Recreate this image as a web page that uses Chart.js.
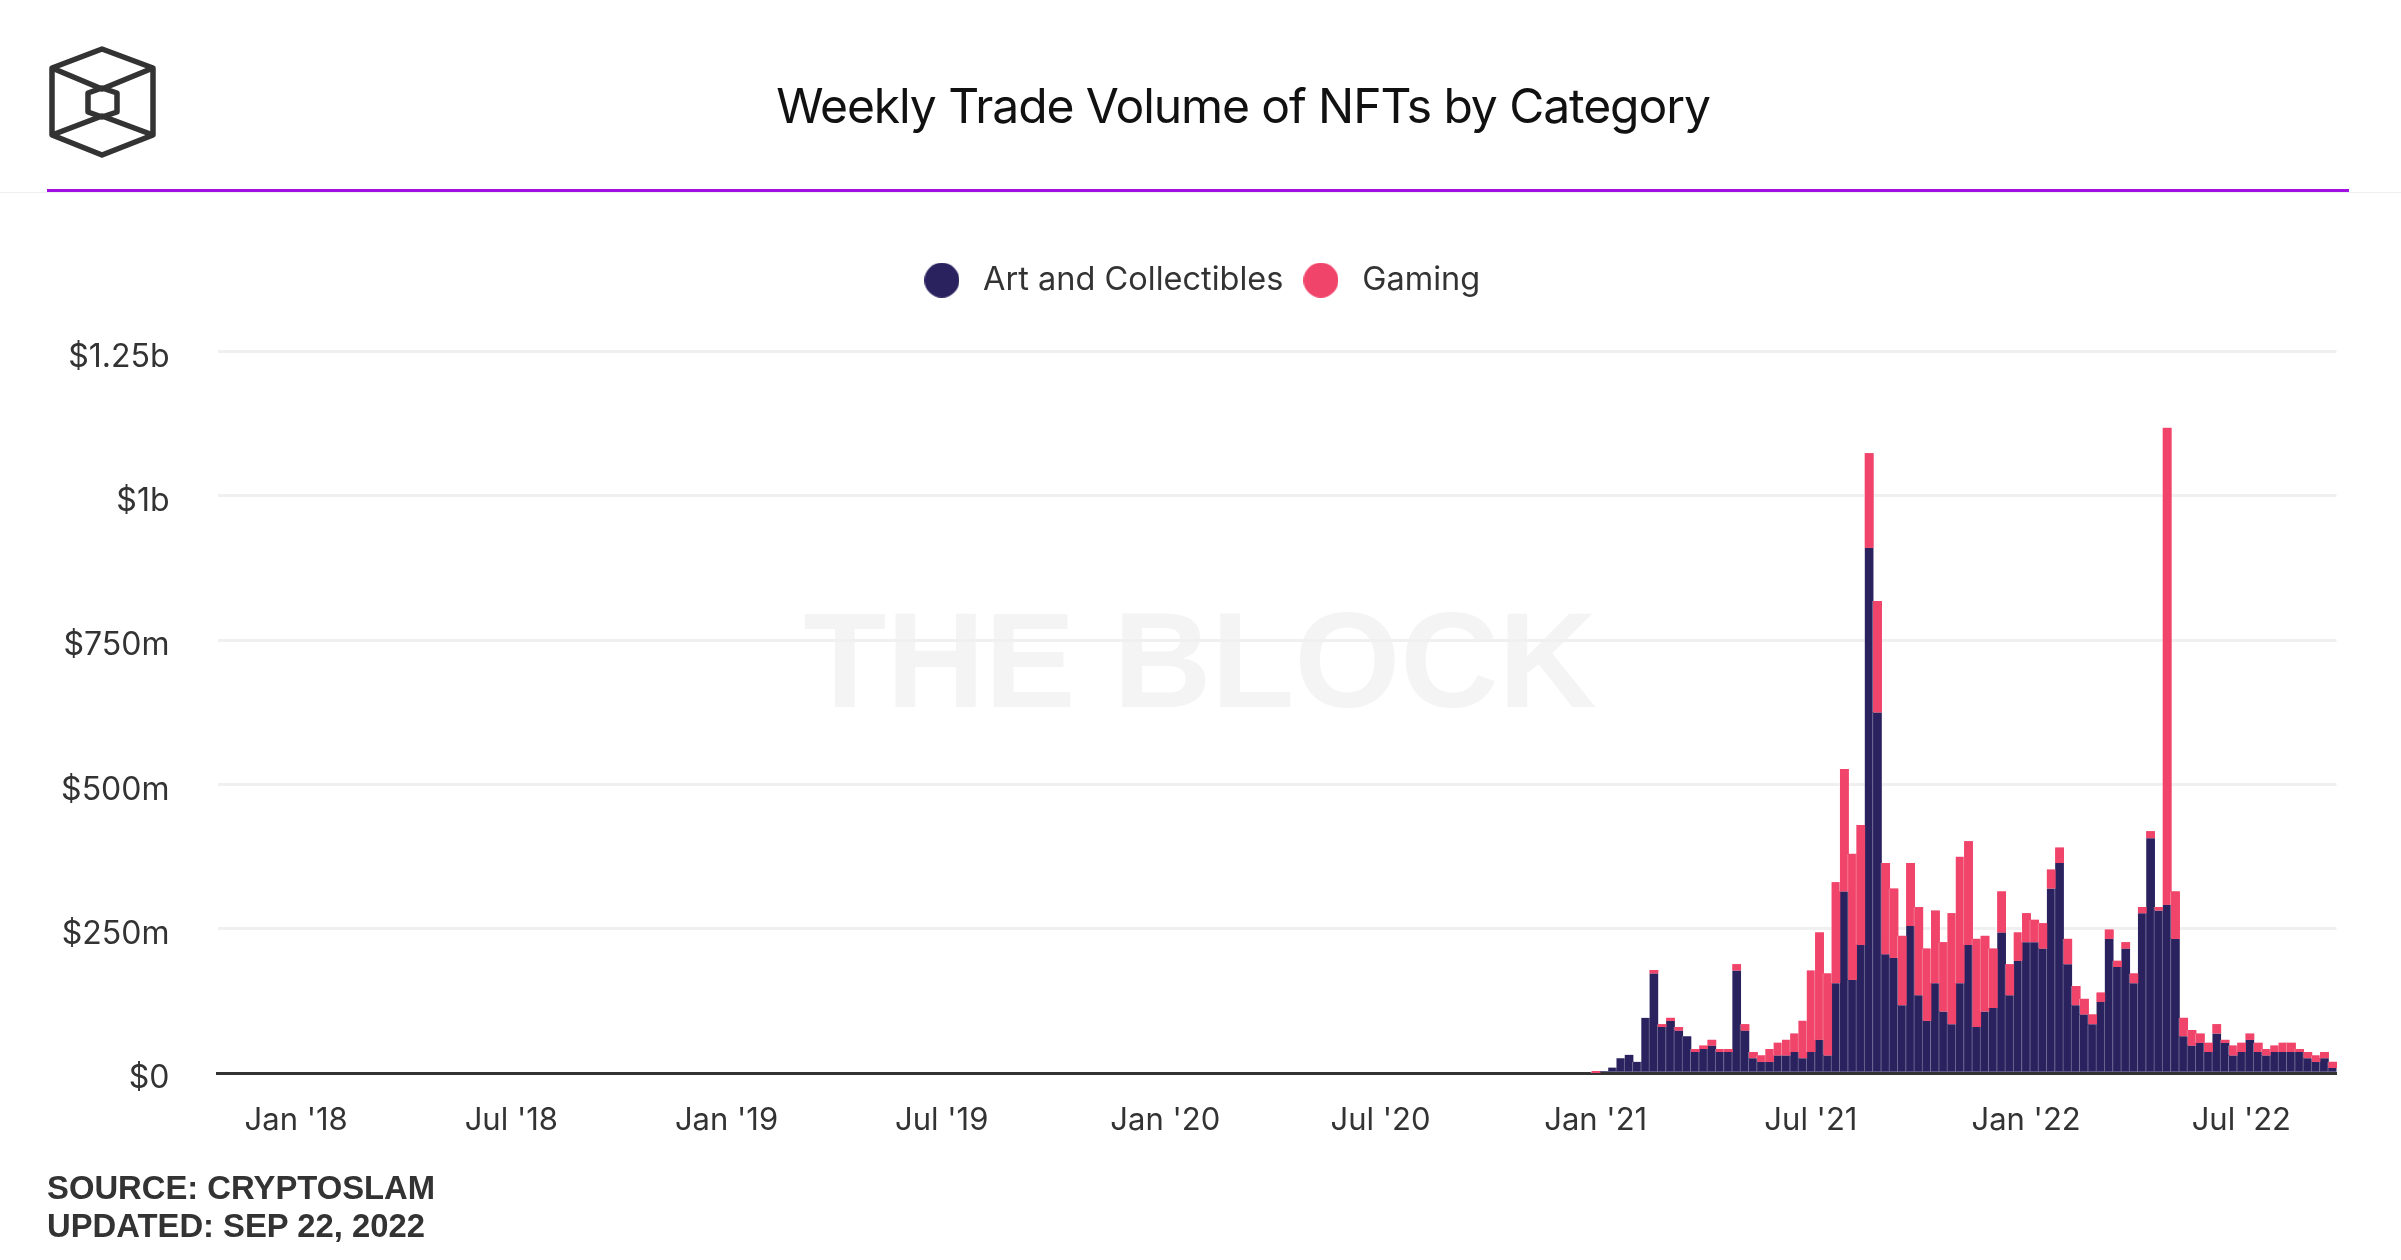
<!DOCTYPE html>
<html>
<head>
<meta charset="utf-8">
<title>Weekly Trade Volume of NFTs by Category</title>
<script src="https://cdn.jsdelivr.net/npm/chart.js@4/dist/chart.umd.min.js"></script>
<style>
  html, body { margin: 0; padding: 0; background: #fff; }
  #page { position: relative; width: 2401px; height: 1260px; overflow: hidden; }
  #watermark { position: absolute; left: 0; width: 2400px; top: 582px; text-align: center;
    font: bold 136px "Liberation Sans", sans-serif; color: #f4f4f4; }
  #chart { position: absolute; left: 0; top: 0; }
  #logo { position: absolute; left: 0; top: 0; }
  #title { position: absolute; left: 0; width: 2486px; top: 76px; text-align: center;
    font: 48px Inter, sans-serif; letter-spacing: -1.08px; color: #111; }
  #rule { position: absolute; left: 47px; width: 2302px; top: 189px; height: 3px; background: #a010e0; }
  #hair { position: absolute; left: 0; width: 2401px; top: 192px; height: 1px; background: #f0f0f0; }
  #source { position: absolute; left: 47px; top: 1169px; font: bold 32.8px/38px "Liberation Sans", sans-serif; color: #333; }
</style>
</head>
<body>
<div id="page">
  <div id="watermark">THE BLOCK</div>
  <canvas id="chart" width="2401" height="1260"></canvas>
  <svg id="logo" width="170" height="170" fill="none" stroke="#333" stroke-width="5.5" stroke-linejoin="round">
    <path d="M102 49 L153 68 L153 135 L102 155 L52 135 L52 68 Z"/>
    <path d="M102 88 L117 93 L117 112 L102 117 L88 112 L88 93 Z"/>
    <path d="M52 68 L102 89 L153 68"/>
    <path d="M52 135 L102 116 L153 135"/>
  </svg>
  <div id="title">Weekly Trade Volume of NFTs by Category</div>
  <div id="hair"></div>
  <div id="rule"></div>
  <div id="source">SOURCE: CRYPTOSLAM<br>UPDATED: SEP 22, 2022</div>
</div>

<script>
// $ millions per week. One entry per week from Oct 30 2017.
const artAndCollectibles = [
  0,0,0,0,0,0,0,0,0,0,0,0,0,0,0,0,0,0,0,0,
  0,0,0,0,0,0,0,0,0,0,0,0,0,0,0,0,0,0,0,0,
  0,0,0,0,0,0,0,0,0,0,0,0,0,0,0,0,0,0,0,0,
  0,0,0,0,0,0,0,0,0,0,0,0,0,0,0,0,0,0,0,0,
  0,0,0,0,0,0,0,0,0,0,0,0,0,0,0,0,0,0,0,0,
  0,0,0,0,0,0,0,0,0,0,0,0,0,0,0,0,0,0,0,0,
  0,0,0,0,0,0,0,0,0,0,0,0,0,0,0,0,0,0,0,0,
  0,0,0,0,0,0,0,0,0,0,0,0,0,0,0,0,0,0,0,0,
  0,0,0,0,0,0,
  0.5,4,10,26,32,20,96,173,80,91,
  74,64,37,42,48,37,37,178,74,26,
  20,20,31,31,37,26,37,58,31,156,
  315,162,222,910,625,206,200,118,255,135,
  91,156,107,85,156,222,80,107,113,244,
  135,195,227,227,216,320,364,189,118,102,
  85,124,233,184,216,156,277,407,282,292,
  233,64,48,53,37,69,53,31,37,58,
  37,31,37,37,37,37,26,20,26,9
];
const gaming = [
  0,0,0,0,0,0,0,0,0,0,0,0,0,0,0,0,0,0,0,0,
  0,0,0,0,0,0,0,0,0,0,0,0,0,0,0,0,0,0,0,0,
  0,0,0,0,0,0,0,0,0,0,0,0,0,0,0,0,0,0,0,0,
  0,0,0,0,0,0,0,0,0,0,0,0,0,0,0,0,0,0,0,0,
  0,0,0,0,0,0,0,0,0,0,0,0,0,0,0,0,0,0,0,0,
  0,0,0,0,0,0,0,0,0,0,0,0,0,0,0,0,0,0,0,0,
  0,0,0,0,0,0,0,0,0,0,0,0,0,0,0,0,0,0,0,0,
  0,0,0,0,0,0,0,0,0,0,0,0,0,0,0,0,0,0,0,0,
  0,0,0,0,0,0,
  3.5,0,0,0,0,0,0,6,5,5,
  6,0,5,6,10,5,5,11,11,11,
  11,22,22,27,32,65,141,186,142,175,
  212,218,208,164,193,158,120,120,109,153,
  125,126,120,192,219,180,153,131,103,71,
  54,49,50,39,44,33,27,44,33,27,
  17,16,16,11,11,17,11,12,6,826,
  82,32,27,16,16,16,5,17,16,11,
  16,11,11,16,16,5,11,11,11,11
];

const tickWeeks = [9, 35, 61, 87, 114, 140, 166, 192, 218, 244];
const tickLabels = ["Jan '18", "Jul '18", "Jan '19", "Jul '19", "Jan '20", "Jul '20", "Jan '21", "Jul '21", "Jan '22", "Jul '22"];
const yTickLabels = { 0: '$0', 250: '$250m', 500: '$500m', 750: '$750m', 1000: '$1b', 1250: '$1.25b' };

// one category per week, the date is only used as the key
const weeks = artAndCollectibles.map((_, i) => new Date(Date.UTC(2017, 9, 30 + i * 7)).toISOString().slice(0, 10));

const FONT = 'Inter, sans-serif';
const TEXT = '#333333';

// pointStyleWidth would stretch a 'circle' into an oval, so the legend dots are small canvases
function legendDot(color) {
  const dot = document.createElement('canvas');
  dot.width = dot.height = 35;
  const ctx = dot.getContext('2d');
  ctx.fillStyle = color;
  ctx.arc(17.5, 17.5, 17.5, 0, Math.PI * 2);
  ctx.fill();
  return dot;
}

// legend box gets extra height so the plot starts lower than the legend
const legendSpacing = {
  id: 'legendSpacing',
  beforeInit(chart) {
    const fit = chart.legend.fit;
    chart.legend.fit = function () {
      fit.call(this);
      this.height = 100;
    };
  }
};

// chart.js paints the bottom stack last, the reference has pink on top of navy
const pinkOnTop = {
  id: 'pinkOnTop',
  afterDatasetsDraw(chart) {
    chart.getDatasetMeta(1).controller.draw();
  }
};

new Chart(document.getElementById('chart'), {
  type: 'bar',
  plugins: [legendSpacing, pinkOnTop],
  data: {
    labels: weeks,
    datasets: [
      {
        label: 'Art and Collectibles',
        data: artAndCollectibles,
        backgroundColor: '#2a225f',
        borderColor: 'rgba(255, 255, 255, 0.35)',
        borderWidth: { left: 1, right: 0, top: 0, bottom: 0 },
        borderSkipped: false,
        barThickness: 9.4
      },
      {
        label: 'Gaming',
        data: gaming,
        backgroundColor: '#f0446a',
        borderColor: 'rgba(255, 255, 255, 0.35)',
        borderWidth: { left: 1, right: 0, top: 0, bottom: 0 },
        borderSkipped: false,
        barThickness: 9.4
      }
    ]
  },
  options: {
    responsive: false,
    animation: false,
    devicePixelRatio: 1,
    layout: { padding: { top: 251.5, left: 60.5, right: 64.5, bottom: 99.5 } },
    plugins: {
      tooltip: { enabled: false },
      title: { display: false },
      legend: {
        position: 'top',
        labels: {
          usePointStyle: true,
          boxHeight: 25,
          pointStyleWidth: 50,
          padding: 12.5,
          color: TEXT,
          font: { family: FONT, size: 32.5 },
          generateLabels(chart) {
            return chart.data.datasets.map((d, i) => ({
              text: d.label,
              fillStyle: d.backgroundColor,
              strokeStyle: d.backgroundColor,
              fontColor: TEXT,
              lineWidth: 0,
              pointStyle: legendDot(d.backgroundColor),
              datasetIndex: i
            }));
          }
        }
      }
    },
    scales: {
      x: {
        stacked: true,
        grid: { display: false },
        border: { display: true, color: TEXT, width: 3 },
        ticks: {
          autoSkip: false,
          maxRotation: 0,
          minRotation: 0,
          padding: 21,
          color: TEXT,
          font: { family: FONT, size: 31 },
          callback(value, index) {
            const pos = tickWeeks.indexOf(index);
            return pos >= 0 ? tickLabels[pos] : '';
          }
        }
      },
      y: {
        stacked: true,
        min: 0,
        max: 1250,
        afterFit(scale) { scale.width = 157; },
        grid: { color: '#f0f0f0', lineWidth: 3, drawTicks: false },
        border: { display: false },
        ticks: {
          stepSize: 250,
          padding: 48,
          labelOffset: 5.5,
          color: TEXT,
          font: { family: FONT, size: 32 },
          callback(value) { return yTickLabels[value]; }
        }
      }
    }
  }
});
</script>
</body>
</html>
